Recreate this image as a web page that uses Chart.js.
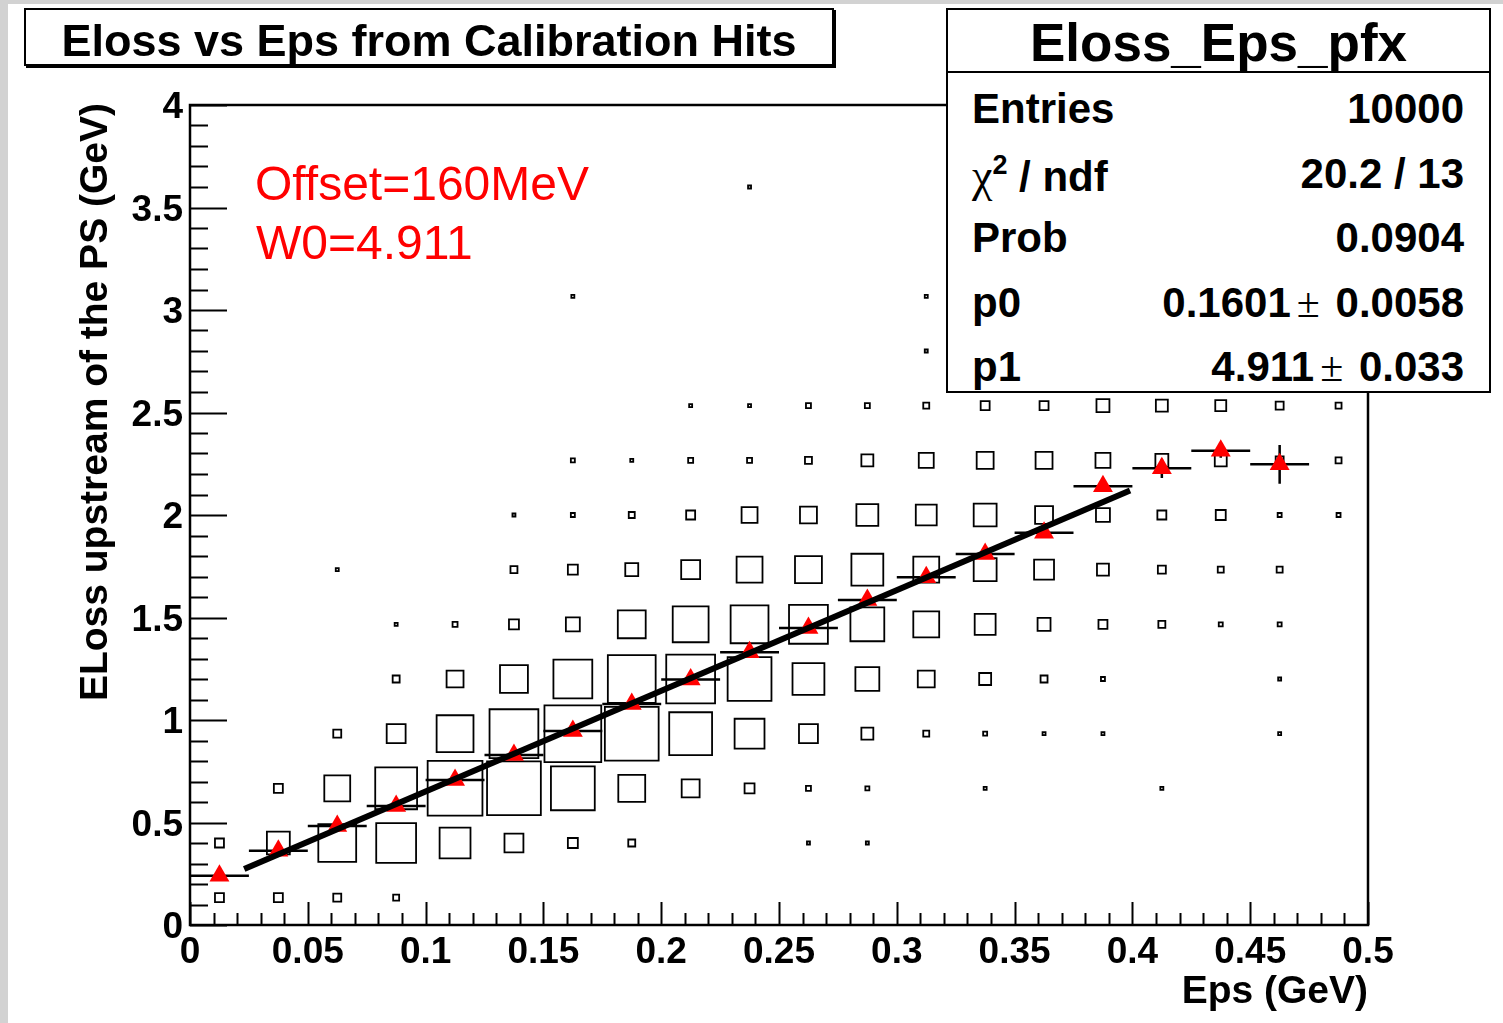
<!DOCTYPE html>
<html>
<head>
<meta charset="utf-8">
<script src="https://cdn.jsdelivr.net/npm/chart.js@4.4.0/dist/chart.umd.min.js"></script>
<style>
html,body{margin:0;padding:0;background:#fff;}
#wrap{position:relative;width:1503px;height:1023px;overflow:hidden;background:#fff;font-family:'Liberation Sans',Arial,Helvetica,sans-serif;}
#c{position:absolute;left:0;top:0;}
.t{position:absolute;white-space:nowrap;line-height:1;color:#000;}
.b{font-weight:bold;}
.sym{font-family:'Liberation Serif','DejaVu Serif',serif;font-weight:normal;}
</style>
</head>
<body>
<div id="wrap">
  <canvas id="c" width="1503" height="1023"></canvas>
  <div style="position:absolute;left:0;top:0;width:8px;height:1023px;background:#d2d2d2;"></div>
  <div style="position:absolute;left:0;top:0;width:1503px;height:4px;background:#d2d2d2;"></div>

  <!-- title box -->
  <div style="position:absolute;left:24px;top:8px;width:810px;height:58px;box-sizing:border-box;border:2px solid #000;background:#fff;box-shadow:2px 2px 0 #000;"></div>
  <div class="t b" style="left:24px;width:810px;text-align:center;top:18px;font-size:45px;height:45px;">Eloss vs Eps from Calibration Hits</div>

  <!-- stats box -->
  <div style="position:absolute;left:946px;top:8px;width:545px;height:385px;box-sizing:border-box;border:2px solid #000;background:#fff;"></div>
  <div style="position:absolute;left:946px;top:71px;width:545px;height:2px;background:#000;"></div>
  <div class="t b" style="left:946px;width:545px;text-align:center;top:16px;font-size:53px;height:53px;">Eloss_Eps_pfx</div>

  <div class="t b" style="left:972px;top:88px;font-size:42px;height:42px;">Entries</div>
  <div class="t b" style="right:39px;top:88px;font-size:42px;height:42px;text-align:right;">10000</div>

  <div class="t b" style="left:972px;top:153px;font-size:42px;height:42px;"><span class="sym" style="font-size:46px;">χ</span><span style="position:relative;top:-17px;font-size:27px;">2</span> / ndf</div>
  <div class="t b" style="right:39px;top:153px;font-size:42px;height:42px;text-align:right;">20.2 / 13</div>

  <div class="t b" style="left:972px;top:217px;font-size:42px;height:42px;">Prob</div>
  <div class="t b" style="right:39px;top:217px;font-size:42px;height:42px;text-align:right;">0.0904</div>

  <div class="t b" style="left:972px;top:282px;font-size:42px;height:42px;">p0</div>
  <div class="t b" style="right:39px;top:282px;font-size:42px;height:42px;text-align:right;">0.1601<span class="sym" style="margin-left:6px;margin-right:4px;">±</span> 0.0058</div>

  <div class="t b" style="left:972px;top:346px;font-size:42px;height:42px;">p1</div>
  <div class="t b" style="right:39px;top:346px;font-size:42px;height:42px;text-align:right;">4.911<span class="sym" style="margin-left:6px;margin-right:4px;">±</span> 0.033</div>

  <!-- annotations -->
  <div class="t" style="left:255px;top:160px;font-size:48px;height:48px;color:#ff0000;">Offset=160MeV</div>
  <div class="t" style="left:256px;top:219px;font-size:48px;height:48px;color:#ff0000;">W0=4.911</div>

  <!-- axis titles -->
  <div class="t b" style="left:0;top:0;width:700px;height:39px;font-size:39px;text-align:right;transform-origin:0 0;transform:translate(74px,803px) rotate(-90deg);">ELoss upstream of the PS (GeV)</div>
  <div class="t b" style="left:868px;width:500px;text-align:right;top:970px;font-size:39px;height:39px;">Eps (GeV)</div>
</div>

<script>
// ---------------- data ----------------
const xBinCenters = [0.0125,0.0375,0.0625,0.0875,0.1125,0.1375,0.1625,0.1875,0.2125,0.2375,
                     0.2625,0.2875,0.3125,0.3375,0.3625,0.3875,0.4125,0.4375,0.4625,0.4875];
const yBinCenters = [0.1333,0.4,0.6667,0.9333,1.2,1.4667,1.7333,2.0,2.2667,2.5333,2.8,3.0667,3.3333,3.6];
const xBinWidth = 0.025;
const yBinHeight = 0.26667;

// 2D histogram cell contents (estimated), one row per y bin
const countsRow0  = [45,45,40,30,0,0,0,0,0,0,0,0,0,0,0,0,0,0,0,0];
const countsRow1  = [45,115,190,200,155,95,50,35,0,0,15,15,0,0,0,0,0,0,0,0];
const countsRow2  = [0,45,130,210,275,270,220,135,90,50,25,20,0,15,0,0,15,0,0,0];
const countsRow3  = [0,0,40,95,185,245,285,270,215,150,95,60,30,20,15,15,0,0,15,0];
const countsRow4  = [0,0,0,35,85,140,195,240,245,220,160,120,85,60,35,20,0,0,15,0];
const countsRow5  = [0,0,0,15,25,50,70,140,180,190,195,170,130,105,65,45,35,20,20,0];
const countsRow6  = [0,0,15,0,0,35,50,65,95,130,135,160,130,115,100,60,40,30,30,0];
const countsRow7  = [0,0,0,0,0,15,20,30,45,80,85,110,105,115,90,70,45,50,20,20];
const countsRow8  = [0,0,0,0,0,0,20,15,25,25,35,60,75,85,85,75,65,60,40,30];
const countsRow9  = [0,0,0,0,0,0,0,0,15,15,25,25,30,45,45,65,60,55,40,30];
const countsRow10 = [0,0,0,0,0,0,0,0,0,0,0,0,15,0,0,0,0,0,0,0];
const countsRow11 = [0,0,0,0,0,0,15,0,0,0,0,0,15,0,0,0,0,0,0,0];
const countsRow12 = [0,0,0,0,0,0,0,0,0,0,0,0,0,0,0,0,0,0,0,0];
const countsRow13 = [0,0,0,0,0,0,0,0,0,15,0,0,0,0,0,0,0,0,0,0];
const boxCounts = [countsRow0,countsRow1,countsRow2,countsRow3,countsRow4,countsRow5,countsRow6,
                   countsRow7,countsRow8,countsRow9,countsRow10,countsRow11,countsRow12,countsRow13];

// profile (mean Eloss per Eps bin)
const profX = [0.0125,0.0375,0.0625,0.0875,0.1125,0.1375,0.1625,0.1875,0.2125,0.2375,
               0.2625,0.2875,0.3125,0.3375,0.3625,0.3875,0.4125,0.4375,0.4625];
const profY = [0.240,0.362,0.483,0.580,0.707,0.829,0.946,1.078,1.198,1.330,
               1.449,1.585,1.696,1.810,1.914,2.140,2.228,2.314,2.247];
const profYErr = [0.02,0.012,0.01,0.01,0.01,0.01,0.01,0.01,0.01,0.01,
                  0.01,0.012,0.012,0.015,0.018,0.025,0.047,0.035,0.095];
const profXErr = 0.0125;

// fitted line (pol1) end points
const fitX = [0.023, 0.399];
const fitY = [0.273, 2.120];

// axis ticks
const xTickValues = [0,0.05,0.1,0.15,0.2,0.25,0.3,0.35,0.4,0.45,0.5];
const xTickLabels = ['0','0.05','0.1','0.15','0.2','0.25','0.3','0.35','0.4','0.45','0.5'];
const yTickValues = [0,0.5,1,1.5,2,2.5,3,3.5,4];
const yTickLabels = ['0','0.5','1','1.5','2','2.5','3','3.5','4'];

// ---------------- build ----------------
const zMax = Math.max(...boxCounts.flat());
const boxPoints = [];
boxCounts.forEach((row, j) => row.forEach((c, i) => {
  if (c > 0) boxPoints.push({x: xBinCenters[i], y: yBinCenters[j], c: c});
}));

const errPoints = [];
profX.forEach((x, i) => {
  const y = profY[i], e = profYErr[i];
  errPoints.push({x: x - profXErr, y: y}, {x: x + profXErr, y: y}, {x: x, y: null},
                 {x: x, y: y - e}, {x: x, y: y + e}, {x: x, y: null});
});
const profPoints = profX.map((x, i) => ({x: x, y: profY[i]}));
const fitPoints = fitX.map((x, i) => ({x: x, y: fitY[i]}));

const axisFont = {family: "'Liberation Sans', Arial, sans-serif", weight: 'bold', size: 37};

const rootAxes = {
  id: 'rootAxes',
  beforeDatasetsDraw(chart) {
    const {ctx, chartArea: a, scales: {x, y}} = chart;
    ctx.save();
    ctx.strokeStyle = '#000';
    ctx.lineWidth = 2;
    ctx.beginPath();
    for (let k = 0; k <= 50; k++) {
      const px = Math.round(x.getPixelForValue(k * 0.01)) + 0.5;
      const len = (k % 5 === 0) ? 23 : 12;
      ctx.moveTo(px, a.bottom); ctx.lineTo(px, a.bottom - len);
    }
    for (let k = 0; k <= 40; k++) {
      const py = Math.round(y.getPixelForValue(k * 0.1)) + 0.5;
      const len = (k % 5 === 0) ? 37 : 18;
      ctx.moveTo(a.left, py); ctx.lineTo(a.left + len, py);
    }
    ctx.stroke();
    ctx.lineWidth = 2.5;
    ctx.strokeRect(a.left, a.top, a.right - a.left, a.bottom - a.top);
    ctx.restore();
  }
};

function boxRadius(ctx) {
  const p = ctx.raw;
  if (!p) return 0;
  const s = ctx.chart.scales;
  const bw = Math.abs(s.x.getPixelForValue(xBinWidth) - s.x.getPixelForValue(0));
  const bh = Math.abs(s.y.getPixelForValue(0) - s.y.getPixelForValue(yBinHeight));
  const side = p.c / zMax * (bw + bh) / 2;
  return side / 2 / Math.SQRT1_2;
}

new Chart(document.getElementById('c'), {
  type: 'scatter',
  data: {
    datasets: [
      {
        label: 'Fit', data: fitPoints, showLine: true, borderColor: '#000', borderWidth: 6,
        borderCapStyle: 'butt', pointRadius: 0, order: 0
      },
      {
        label: 'Profile', data: profPoints, pointStyle: 'triangle', pointRadius: 11.5,
        backgroundColor: '#ff0000', borderWidth: 0, showLine: false, order: 1
      },
      {
        label: 'Errors', data: errPoints, showLine: true, spanGaps: false, borderColor: '#000',
        borderWidth: 2.5, pointRadius: 0, borderCapStyle: 'butt', order: 2
      },
      {
        label: 'Hist', data: boxPoints, pointStyle: 'rect', pointRadius: boxRadius,
        backgroundColor: 'rgba(0,0,0,0)', borderColor: '#000', borderWidth: 1.8,
        showLine: false, order: 3
      }
    ]
  },
  options: {
    responsive: false,
    animation: false,
    devicePixelRatio: 1,
    events: [],
    layout: {padding: {left: 0, right: 135, top: 105, bottom: 0}},
    plugins: {legend: {display: false}, tooltip: {enabled: false}, title: {display: false}},
    scales: {
      x: {
        type: 'linear', min: 0, max: 0.5,
        grid: {display: false, drawTicks: false, tickLength: 0},
        border: {display: false},
        afterBuildTicks: (sc) => { sc.ticks = xTickValues.map(v => ({value: v})); },
        afterFit: (sc) => { sc.height = 98; },
        ticks: {
          autoSkip: false, maxRotation: 0, padding: 6, color: '#000', font: axisFont,
          callback: (v, i) => xTickLabels[i]
        }
      },
      y: {
        type: 'linear', min: 0, max: 4,
        grid: {display: false, drawTicks: false, tickLength: 0},
        border: {display: false},
        afterBuildTicks: (sc) => { sc.ticks = yTickValues.map(v => ({value: v})); },
        afterFit: (sc) => { sc.width = 190; },
        ticks: {
          autoSkip: false, padding: 7, labelOffset: 3, color: '#000', font: axisFont,
          callback: (v, i) => yTickLabels[i]
        }
      }
    }
  },
  plugins: [rootAxes]
});
</script>
</body>
</html>
